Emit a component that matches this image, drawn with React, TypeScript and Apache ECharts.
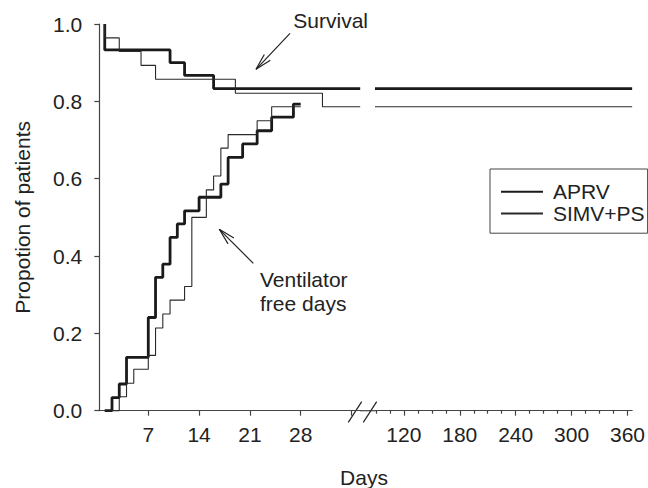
import React, { useEffect, useRef } from "react";
import * as echarts from "echarts";

const FONT = "'Liberation Sans', Arial, Helvetica, sans-serif";
const TEXT = "#222";
const AXIS = "#444";

// Axis ticks / labels
const yTicks = [0, 0.2, 0.4, 0.6, 0.8, 1.0];
const earlyDayLabels = [7, 14, 21, 28];
const earlyDayTicks = [7, 14, 21, 28, 35];
const lateDayLabels = [120, 180, 240, 300, 360];
const lateMinorTicks = [90, 105, 135, 150, 165, 195, 210, 225, 255, 270, 285, 315, 330, 345];

// Broken x-axis ranges (days)
const EARLY_MIN = 0.25;
const EARLY_MAX = 36.2;
const LATE_MIN = 89;
const LATE_MAX = 365;

// Survival (Kaplan-Meier steps)
const aprvSurvivalDays = [1, 1, 10, 12, 16];
const aprvSurvival = [1.0, 0.933, 0.9, 0.867, 0.833];
const simvSurvivalDays = [1, 1, 3, 6, 8, 19, 31];
const simvSurvival = [1.0, 0.964, 0.929, 0.893, 0.857, 0.821, 0.786];

// Ventilator free days (cumulative)
const aprvVentDays = [1, 2, 3, 4, 7, 8, 9, 10, 11, 12, 14, 17, 18, 20, 22, 24, 27, 28];
const aprvVentFree = [0, 0.034, 0.069, 0.138, 0.241, 0.345, 0.379, 0.448, 0.483, 0.517, 0.552, 0.586, 0.655, 0.69, 0.724, 0.759, 0.793, 0.793];
const simvVentDays = [1, 3, 4, 5, 7, 8, 9, 10, 12, 13, 15, 16, 17, 18, 22, 24, 28];
const simvVentFree = [0, 0.036, 0.071, 0.107, 0.143, 0.214, 0.25, 0.286, 0.321, 0.5, 0.571, 0.607, 0.679, 0.714, 0.75, 0.786, 0.786];

const zip = (xs: number[], ys: number[]) => xs.map((x, i) => [x, ys[i]]);

function arrow(tip: [number, number], tail: [number, number], len = 17, half = 14) {
  const ang = Math.atan2(tail[1] - tip[1], tail[0] - tip[0]);
  const a1 = ang + (half * Math.PI) / 180;
  const a2 = ang - (half * Math.PI) / 180;
  const b1 = [tip[0] + len * Math.cos(a1), tip[1] + len * Math.sin(a1)];
  const b2 = [tip[0] + len * Math.cos(a2), tip[1] + len * Math.sin(a2)];
  const style = { stroke: TEXT, lineWidth: 1.2, fill: null };
  return [
    { type: "line", shape: { x1: tip[0], y1: tip[1], x2: tail[0], y2: tail[1] }, style },
    { type: "polyline", shape: { points: [b1, tip, b2] }, style },
  ];
}

export default function App() {
  const ref = useRef<HTMLDivElement>(null);

  useEffect(() => {
    if (!ref.current) return;
    const chart = echarts.init(ref.current, undefined, { renderer: "svg" });

    const thick = { color: "#1a1a1a", width: 2.8 };
    const thin = { color: "#2a2a2a", width: 1.1 };
    const lastA = aprvSurvival[aprvSurvival.length - 1];
    const lastS = simvSurvival[simvSurvival.length - 1];

    const mk = (name: string, data: number[][], ls: any, gi: number) => ({
      name,
      type: "line",
      step: "end",
      symbol: "none",
      showSymbol: false,
      xAxisIndex: gi,
      yAxisIndex: gi,
      lineStyle: ls,
      itemStyle: { color: ls.color },
      data,
      clip: false,
      silent: true,
    });

    const labelStyle = { fontSize: 21, color: TEXT, fontFamily: FONT };

    const option: any = {
      animation: false,
      backgroundColor: "#fff",
      grid: [
        { left: 99.3, top: 24, width: 260.9, height: 386.7 },
        { left: 375, top: 24, width: 260, height: 386.7 },
      ],
      xAxis: [
        {
          gridIndex: 0,
          type: "value",
          min: EARLY_MIN,
          max: EARLY_MAX,
          axisLine: { show: true, onZero: false, lineStyle: { color: AXIS, width: 1.2 } },
          axisTick: { show: true, customValues: earlyDayTicks, length: 5, lineStyle: { color: AXIS, width: 1.2 } },
          axisLabel: { customValues: earlyDayLabels, margin: 13, ...labelStyle },
          splitLine: { show: false },
        },
        {
          gridIndex: 1,
          type: "value",
          min: LATE_MIN,
          max: LATE_MAX,
          axisLine: { show: true, onZero: false, lineStyle: { color: AXIS, width: 1.2 } },
          axisTick: { show: true, customValues: lateMinorTicks, length: 3, lineStyle: { color: AXIS, width: 1.2 } },
          axisLabel: { customValues: lateDayLabels, margin: 13, ...labelStyle },
          splitLine: { show: false },
        },
        {
          gridIndex: 1,
          type: "value",
          position: "bottom",
          min: LATE_MIN,
          max: LATE_MAX,
          axisLine: { show: false, onZero: false },
          axisTick: { show: true, customValues: lateDayLabels, length: 5, lineStyle: { color: AXIS, width: 1.2 } },
          axisLabel: { show: false },
          splitLine: { show: false },
        },
      ],
      yAxis: [
        {
          gridIndex: 0,
          type: "value",
          min: 0,
          max: 1,
          interval: 0.2,
          axisLine: { show: true, onZero: false, lineStyle: { color: AXIS, width: 1.2 } },
          axisTick: { show: true, length: 5, lineStyle: { color: AXIS, width: 1.2 } },
          axisLabel: {
            margin: 17,
            ...labelStyle,
            formatter: (v: number) => (yTicks.some((t) => Math.abs(t - v) < 1e-9) ? v.toFixed(1) : ""),
          },
          splitLine: { show: false },
          name: "Propotion of patients",
          nameLocation: "middle",
          nameGap: 66,
          nameTextStyle: labelStyle,
        },
        { gridIndex: 1, type: "value", min: 0, max: 1, show: false, splitLine: { show: false } },
      ],
      legend: {
        data: ["APRV", "SIMV+PS"],
        orient: "vertical",
        left: 490,
        top: 169,
        itemWidth: 42,
        itemHeight: 14,
        itemGap: 0,
        padding: [12, 3, 9, 10],
        borderColor: AXIS,
        borderWidth: 1,
        borderRadius: 0,
        selectedMode: false,
        itemStyle: { opacity: 0 },
        textStyle: { ...labelStyle, lineHeight: 21.6, padding: [0, 0, 0, 5] },
      },
      series: [
        mk("APRV", [...zip(aprvSurvivalDays, aprvSurvival), [EARLY_MAX, lastA]], thick, 0),
        mk("APRV", [[LATE_MIN, lastA], [LATE_MAX, lastA]], thick, 1),
        mk("APRV", zip(aprvVentDays, aprvVentFree), thick, 0),
        mk("SIMV+PS", [...zip(simvSurvivalDays, simvSurvival), [EARLY_MAX, lastS]], thin, 0),
        mk("SIMV+PS", [[LATE_MIN, lastS], [LATE_MAX, lastS]], thin, 1),
        mk("SIMV+PS", zip(simvVentDays, simvVentFree), thin, 0),
      ],
      graphic: [
        // axis break connector and slashes
        { type: "line", shape: { x1: 360, y1: 410.7, x2: 375.5, y2: 410.7 }, style: { stroke: AXIS, lineWidth: 1.2 } },
        { type: "line", shape: { x1: 348.3, y1: 422.3, x2: 361.7, y2: 401.7 }, style: { stroke: TEXT, lineWidth: 1.2 } },
        { type: "line", shape: { x1: 363.3, y1: 422.3, x2: 376.7, y2: 401.7 }, style: { stroke: TEXT, lineWidth: 1.2 } },
        // annotations
        {
          type: "text",
          x: 293.3,
          y: 20,
          style: { text: "Survival", fontSize: 21, fontFamily: FONT, fill: TEXT, align: "left", verticalAlign: "middle", textAlign: "left", textVerticalAlign: "middle" },
        },
        ...arrow([256, 69.3], [290, 33.3]),
        {
          type: "text",
          x: 260,
          y: 291.7,
          style: { text: "Ventilator\nfree days", fontSize: 21, lineHeight: 23.5, fontFamily: FONT, fill: TEXT, align: "left", verticalAlign: "middle", textAlign: "left", textVerticalAlign: "middle" },
        },
        ...arrow([219.3, 229.3], [253.3, 263.3]),
        {
          type: "text",
          x: 364,
          y: 477,
          style: { text: "Days", fontSize: 21, fontFamily: FONT, fill: TEXT, align: "center", verticalAlign: "middle", textAlign: "center", textVerticalAlign: "middle" },
        },
      ],
    };

    chart.setOption(option);
    return () => chart.dispose();
  }, []);

  return (
    <div
      ref={ref}
      style={{ position: "fixed", left: 0, top: 0, width: 648, height: 488, background: "#fff" }}
    />
  );
}
